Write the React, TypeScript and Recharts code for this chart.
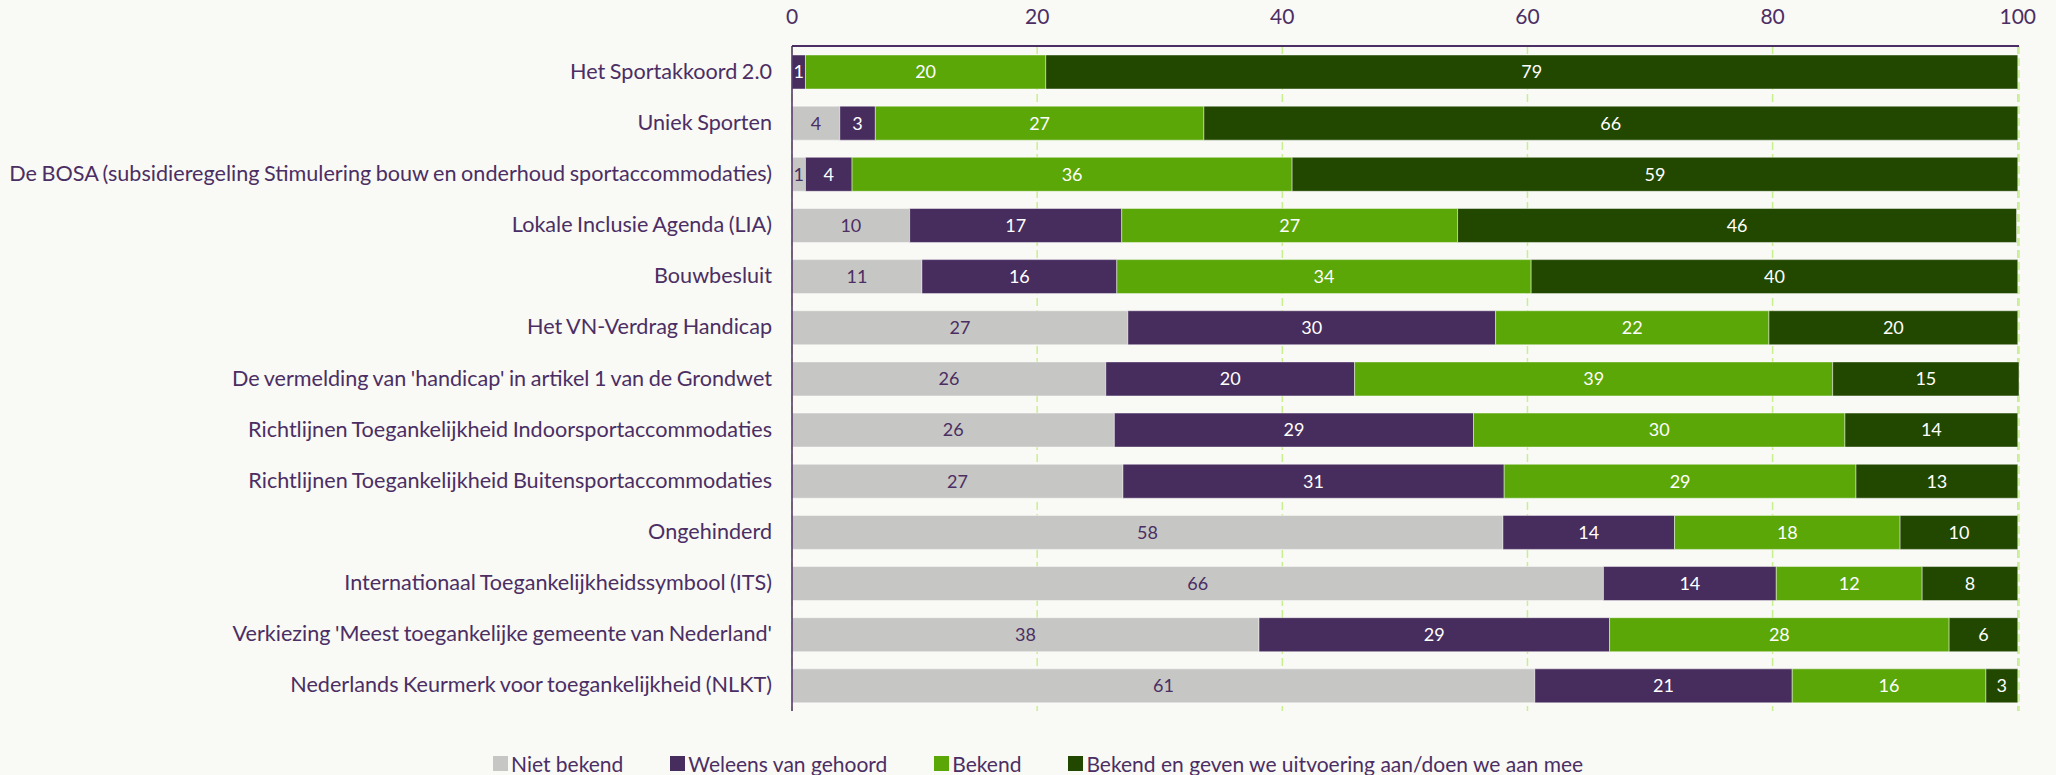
import React from "react";
import {
  BarChart,
  Bar,
  XAxis,
  YAxis,
  CartesianGrid,
  Legend,
  LabelList,
} from "recharts";

// categorieën (boven naar beneden)
const categories = [
  "Het Sportakkoord 2.0",
  "Uniek Sporten",
  "De BOSA (subsidieregeling Stimulering bouw en onderhoud sportaccommodaties)",
  "Lokale Inclusie Agenda (LIA)",
  "Bouwbesluit",
  "Het VN-Verdrag Handicap",
  "De vermelding van 'handicap' in artikel 1 van de Grondwet",
  "Richtlijnen Toegankelijkheid Indoorsportaccommodaties",
  "Richtlijnen Toegankelijkheid Buitensportaccommodaties",
  "Ongehinderd",
  "Internationaal Toegankelijkheidssymbool (ITS)",
  "Verkiezing 'Meest toegankelijke gemeente van Nederland'",
  "Nederlands Keurmerk voor toegankelijkheid (NLKT)",
];

const nietBekend = [0, 3.9, 1.1, 9.6, 10.6, 27.4, 25.6, 26.3, 27.0, 58.0, 66.2, 38.1, 60.6];
const weleens = [1.1, 2.9, 3.8, 17.3, 15.9, 30.0, 20.3, 29.3, 31.1, 14.0, 14.1, 28.6, 21.0];
const bekend = [19.6, 26.8, 35.9, 27.4, 33.8, 22.3, 39.0, 30.3, 28.7, 18.4, 11.9, 27.7, 15.8];
const uitvoering = [79.3, 66.4, 59.2, 45.6, 39.7, 20.3, 15.2, 14.1, 13.2, 9.6, 7.8, 5.6, 2.6];

const xTicks = [0, 20, 40, 60, 80, 100];

const series = [
  { key: "niet", name: "Niet bekend", color: "#c6c6c4", label: "#4b2e63" },
  { key: "weleens", name: "Weleens van gehoord", color: "#472c5e", label: "#ffffff" },
  { key: "bekend", name: "Bekend", color: "#5aa707", label: "#ffffff" },
  { key: "uitvoering", name: "Bekend en geven we uitvoering aan/doen we aan mee", color: "#224800", label: "#ffffff" },
];

const data = categories.map((name, i) => ({
  name,
  niet: nietBekend[i],
  weleens: weleens[i],
  bekend: bekend[i],
  uitvoering: uitvoering[i],
}));

const FONT = "Lato, 'Open Sans', sans-serif";
const TEXT = "#4b2e63";

const YTick = (props: any) => {
  const { x, y, payload } = props;
  return (
    <text
      x={x}
      y={y}
      dy={7}
      textAnchor="end"
      fill={TEXT}
      fontSize={21.6}
      fontFamily={FONT}
      style={{ wordSpacing: "-1px" }}
    >
      {payload.value}
    </text>
  );
};

const XTick = (props: any) => {
  const { x, y, payload } = props;
  return (
    <text x={x} y={y} textAnchor="middle" fill={TEXT} fontSize={21} fontFamily={FONT}>
      {payload.value}
    </text>
  );
};

const LegendContent = () => (
  <div style={{ display: "flex", alignItems: "center", fontFamily: FONT, fontSize: 21, color: TEXT, whiteSpace: "nowrap" }}>
    {series.map((s) => (
      <div key={s.key} style={{ display: "flex", alignItems: "center", marginRight: 47 }}>
        <span style={{ width: 15, height: 15, background: s.color, display: "inline-block", marginRight: 3 }} />
        <span>{s.name}</span>
      </div>
    ))}
  </div>
);

export default function App() {
  return (
    <div style={{ position: "absolute", left: 0, top: 0, width: 2056, height: 775, background: "#f9f9f5" }}>
      <BarChart
        width={2056}
        height={775}
        data={data}
        layout="vertical"
        margin={{ top: 0, right: 37, bottom: 64, left: 0 }}
        barSize={34}
      >
        <CartesianGrid horizontal={false} stroke="#c8f08e" strokeWidth={1.5} strokeDasharray="8 4" />
        <XAxis
          type="number"
          orientation="top"
          domain={[0, 100]}
          ticks={xTicks}
          height={46}
          tickSize={0}
          tickMargin={22}
          tickLine={false}
          axisLine={{ stroke: TEXT, strokeWidth: 2 }}
          tick={<XTick />}
        />
        <YAxis
          type="category"
          dataKey="name"
          width={792}
          tickSize={0}
          tickMargin={20}
          tickLine={false}
          interval={0}
          axisLine={{ stroke: TEXT, strokeWidth: 1.5 }}
          tick={<YTick />}
        />
        <Legend
          verticalAlign="middle"
          align="center"
          layout="horizontal"
          content={<LegendContent />}
          wrapperStyle={{ top: 751, left: 493, width: "auto" }}
        />
        {series.map((s) => (
          <Bar
            key={s.key}
            dataKey={s.key}
            name={s.name}
            stackId="a"
            fill={s.color}
            stroke="rgba(255,255,255,0.45)"
            strokeWidth={1}
            isAnimationActive={false}
          >
            <LabelList
              dataKey={s.key}
              position="center"
              fill={s.label}
              fontSize={18}
              fontFamily={FONT}
              formatter={(v: any) => (v > 0.5 ? Math.round(v) : "")}
            />
          </Bar>
        ))}
      </BarChart>
    </div>
  );
}
